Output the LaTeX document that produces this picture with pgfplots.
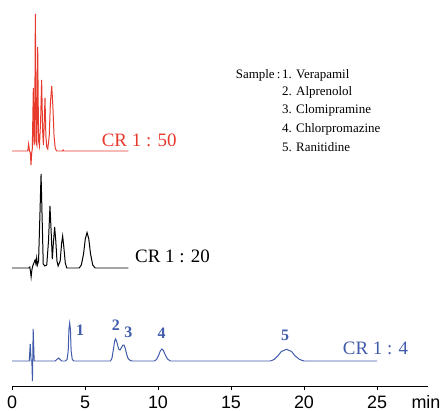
\documentclass[border=0pt]{standalone}
\usepackage{fontspec}
\setmainfont{Liberation Serif}
\newfontfamily\sansfont{Liberation Sans}
\usepackage{pgfplots}
\pgfplotsset{compat=1.18}
\definecolor{CRred}{HTML}{E83A2C}
\definecolor{CRblue}{HTML}{3F5BAA}

\begin{document}
\begin{tikzpicture}
\begin{axis}[
  at={(12bp,25bp)}, anchor=south west,
  x=14.6bp, y=1bp,
  xmin=0, xmax=28.49,
  ymin=25, ymax=411,
  axis x line=bottom,
  axis y line=none,
  axis line style={-,black,line width=0.7pt},
  xtick={0,5,10,15,20,25},
  tick align=outside,
  major tick length=4bp,
  tick style={black,line width=0.7pt},
  /pgf/number format/assume math mode=true,
  xticklabel style={font=\sansfont\fontsize{18}{18}\selectfont,inner sep=0pt,yshift=-6bp},
  clip=false,
]
% CR 1 : 50
\addplot[CRred,line width=1pt] coordinates {
 (0,260) (1.08,260) (1.14,267) (1.2,260) (1.26,258) (1.30,246) (1.35,258) (1.39,262)
 (1.46,323) (1.51,266) (1.55,270) (1.60,397) (1.66,268) (1.70,266) (1.76,364) (1.82,270)
 (1.88,265) (1.96,290) (2.03,331) (2.10,280) (2.15,266) (2.20,285) (2.26,313) (2.32,275)
 (2.38,264) (2.45,262) (2.55,275) (2.63,308) (2.72,325) (2.80,305) (2.88,275) (2.96,263)
 (3.05,260) (3.45,260) (3.5,261) (3.55,260) (7.97,260)};
% CR 1 : 20
\addplot[black,line width=1pt] coordinates {
 (0,143) (1.15,143) (1.22,144) (1.27,139) (1.31,134) (1.36,141) (1.42,145) (1.5,148)
 (1.58,151) (1.64,147) (1.69,153) (1.74,146) (1.82,150) (1.92,200) (1.99,237) (2.06,195)
 (2.14,147) (2.25,145) (2.38,146) (2.5,170) (2.6,205) (2.68,180) (2.76,152) (2.82,165)
 (2.92,184) (3.0,170) (3.08,150) (3.16,145) (3.3,150) (3.4,168) (3.47,175) (3.55,164)
 (3.65,148) (3.75,143) (4.6,143) (4.75,146) (4.9,157) (5.02,172) (5.14,178.5) (5.26,172)
 (5.38,157) (5.53,146) (5.7,143) (7.97,143)};
% CR 1 : 4
\addplot[CRblue,line width=1pt] coordinates {
 (0,50) (1.18,50) (1.25,67) (1.31,50) (1.36,50) (1.40,30) (1.45,82) (1.52,50)
 (2.95,50) (3.2,53) (3.4,50)
 (3.65,50) (3.77,51.5) (3.85,60) (3.9,82) (3.95,88) (4.0,82) (4.05,60) (4.13,51.5) (4.25,50)
 (6.75,50) (6.85,53) (6.95,62) (7.03,70) (7.1,72) (7.18,69) (7.3,62) (7.4,61) (7.5,63.5)
 (7.6,66) (7.67,66) (7.75,63) (7.85,57) (7.95,52.5) (8.1,50.5) (8.25,50)
 (9.75,50) (9.9,51.5) (10.05,56) (10.17,60.5) (10.27,62) (10.37,60.5) (10.5,56) (10.65,52) (10.85,50)
 (17.7,50) (17.95,51.5) (18.2,55) (18.45,59.5) (18.8,61.7) (19.15,59.5) (19.4,55) (19.7,51.5) (20.0,50)
 (25,50)};

\node[CRred,anchor=west,inner sep=0pt,font=\fontsize{19}{19}\selectfont] at (axis cs:6.14,271) {CR 1 : 50};
\node[black,anchor=west,inner sep=0pt,font=\fontsize{19}{19}\selectfont] at (axis cs:8.42,154.3) {CR 1 : 20};
\node[CRblue,anchor=west,inner sep=0pt,font=\fontsize{19}{19}\selectfont] at (axis cs:22.65,62.7) {CR 1 : 4};

\begin{scope}[every node/.style={CRblue,inner sep=0pt,font=\fontsize{16}{16}\selectfont\bfseries}]
\node at (axis cs:4.66,81) {1};
\node at (axis cs:7.12,86) {2};
\node at (axis cs:7.97,79) {3};
\node at (axis cs:10.25,78) {4};
\node at (axis cs:18.7,76) {5};
\end{scope}

\begin{scope}[every node/.style={black,inner sep=0pt,anchor=west,font=\fontsize{13}{13}\selectfont}]
\node[anchor=east] at (axis cs:18.40,336) {Sample\,:};
\node at (axis cs:18.49,336) {1. Verapamil};
\node at (axis cs:18.49,318.7) {2. Alprenolol};
\node at (axis cs:18.49,300.3) {3. Clomipramine};
\node at (axis cs:18.49,282) {4. Chlorpromazine};
\node at (axis cs:18.49,263.7) {5. Ranitidine};
\end{scope}

\node[anchor=base west,inner sep=0pt,font=\sansfont\fontsize{18}{18}\selectfont] at (axis cs:27.35,3) {min};
\end{axis}
\pgfresetboundingbox
\path[use as bounding box] (0,0) rectangle (447bp,411bp);
\end{tikzpicture}
\end{document}
